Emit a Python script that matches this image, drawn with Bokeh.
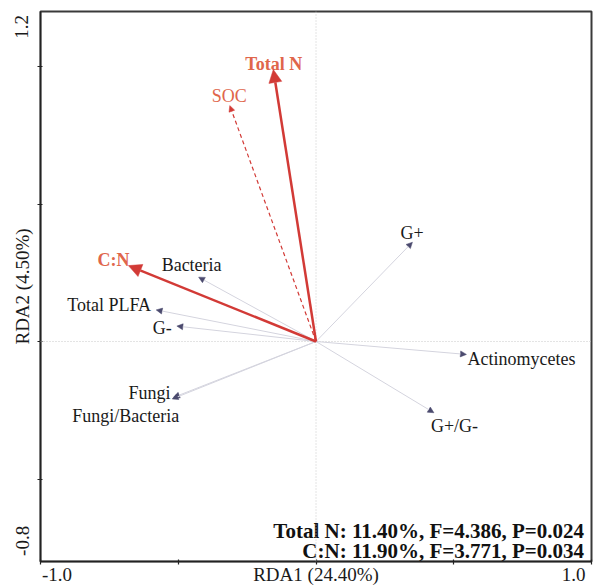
from bokeh.plotting import figure
from bokeh.models import ColumnDataSource, Arrow, NormalHead, Span, FixedTicker
from bokeh.embed import file_html
from bokeh.resources import INLINE
from bokeh.core.properties import value

# ---------------- data ----------------
env_names = ["Total N", "SOC", "C:N"]
env_x = [-0.155, -0.313, -0.681]
env_y = [0.989, 0.858, 0.276]

resp_names = ["Bacteria", "Total PLFA", "G-", "Fungi", "Fungi/Bacteria",
              "G+", "Actinomycetes", "G+/G-"]
resp_x = [-0.426, -0.580, -0.505, -0.517, -0.522, 0.350, 0.546, 0.428]
resp_y = [0.234, 0.115, 0.056, -0.203, -0.209, 0.361, -0.047, -0.259]

stats_lines = ["Total N: 11.40%, F=4.386, P=0.024",
               "C:N: 11.90%, F=3.771, P=0.034"]
x_ticks = [-1.0, -0.5, 0.0, 0.5, 1.0]
y_ticks = [-0.5, 0.0, 0.5, 1.0]
x_tick_labels = ["-1.0", "RDA1 (24.40%)", "1.0"]
y_tick_labels = ["-0.8", "RDA2 (4.50%)", "1.2"]

# ---------------- styles / layout ----------------
FONT = "Liberation Serif"
RED = "#D23A36"
CORAL = "#E0664B"
# where the (end-aligned) axis texts are centred, in axis units
x_label_pos = [-0.94, 0.0, 0.935]
y_label_pos = [-0.725, 0.2, 1.144]
env_dashed = [False, True, False]
env_bold = ["bold", "normal", "bold"]
# label pixel offsets from arrow tips (dx, dy; dy positive = down)
env_dx = [-28, -18, -31]
env_dy = [-6, -10, -6]
resp_dx = [-37, -89, -24, -45, -100, -12, 1, -3]
resp_dy = [-12, -5, 2, -4, 17, -9, 5, 13]
# statistics block: right edge and line centres (axis units)
stats_x = 0.973
stats_y = [-0.688, -0.760]

p = figure(width=598, height=588, x_range=(-1.0, 1.0), y_range=(-0.8, 1.2),
           output_backend="svg", toolbar_location=None,
           min_border_left=40, min_border_top=11, min_border_right=7,
           min_border_bottom=27)
p.grid.visible = False
p.outline_line_color = "#3a3a3a"
p.outline_line_width = 2
p.background_fill_color = "white"
p.border_fill_color = "white"

xax, yax = p.xaxis[0], p.yaxis[0]
xax.ticker = FixedTicker(ticks=x_label_pos, minor_ticks=x_ticks)
yax.ticker = FixedTicker(ticks=y_label_pos, minor_ticks=y_ticks)
xax.major_label_overrides = {x_label_pos[i]: x_tick_labels[i] for i in range(3)}
yax.major_label_overrides = {y_label_pos[i]: y_tick_labels[i] for i in range(3)}
yax.major_label_orientation = "vertical"
for ax in (xax, yax):
    ax.major_tick_line_color = None
    ax.major_tick_out = 0
    ax.major_tick_in = 0
    ax.minor_tick_line_color = "#222222"
    ax.minor_tick_line_width = 1.2
    ax.minor_tick_in = 2
    ax.minor_tick_out = 3
    ax.axis_line_color = "#222222"
    ax.axis_line_width = 1.5
    ax.major_label_text_font = FONT
    ax.major_label_text_font_size = "19px"
    ax.major_label_text_color = "#1a1a1a"
    ax.major_label_standoff = 5
xax.major_label_standoff = -1

# zero lines
p.add_layout(Span(location=0, dimension="height", line_color="#c8c8c8",
                  line_dash="1 2", line_width=1))
p.add_layout(Span(location=0, dimension="width", line_color="#c8c8c8",
                  line_dash="1 2", line_width=1))

# response arrows
rsrc = ColumnDataSource(dict(x0=[0.0] * len(resp_x), y0=[0.0] * len(resp_y),
                             x=resp_x, y=resp_y, name=resp_names,
                             dx=resp_dx, dy=resp_dy))
p.add_layout(Arrow(end=NormalHead(size=6, fill_color="#4b4a6e",
                                  line_color="#4b4a6e", line_width=0.5),
                   x_start="x0", y_start="y0", x_end="x", y_end="y",
                   source=rsrc, line_color="#d4d4de", line_width=1))
p.text(x="x", y="y", text="name", source=rsrc, x_offset="dx", y_offset="dy",
       text_font=value(FONT), text_font_size="18px", text_color="#1a1a1a",
       text_align="left", text_baseline="middle")

# environmental arrows
for i in range(len(env_names)):
    src = ColumnDataSource(dict(x0=[0.0], y0=[0.0], x=[env_x[i]], y=[env_y[i]],
                                name=[env_names[i]], dx=[env_dx[i]], dy=[env_dy[i]]))
    if env_dashed[i]:
        head = NormalHead(size=6, fill_color=RED, line_color=RED, line_width=0.5)
        p.add_layout(Arrow(end=head, x_start="x0", y_start="y0", x_end="x", y_end="y",
                           source=src, line_color=RED, line_width=1.2, line_dash="4 3"))
    else:
        head = NormalHead(size=13, fill_color=RED, line_color=RED, line_width=0.5)
        p.add_layout(Arrow(end=head, x_start="x0", y_start="y0", x_end="x", y_end="y",
                           source=src, line_color=RED, line_width=2.5))
    p.text(x="x", y="y", text="name", source=src, x_offset="dx", y_offset="dy",
           text_font=value(FONT), text_font_size="18px", text_color=CORAL,
           text_font_style=env_bold[i], text_align="left", text_baseline="middle")

# statistics text
ssrc = ColumnDataSource(dict(x=[stats_x] * len(stats_lines), y=stats_y, t=stats_lines))
p.text(x="x", y="y", text="t", source=ssrc, text_font=value(FONT),
       text_font_size="21px", text_font_style="bold", text_color="#111111",
       text_align="right", text_baseline="middle")

open("out.html", "w").write(file_html(p, INLINE))
